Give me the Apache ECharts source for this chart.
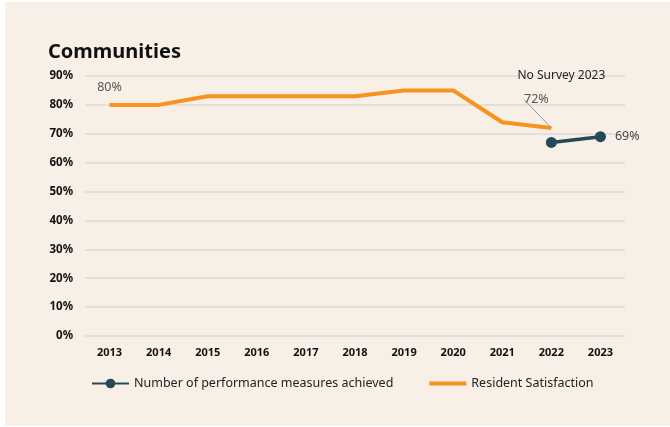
<!DOCTYPE html>
<html>
<head>
<meta charset="utf-8">
<script src="https://cdn.jsdelivr.net/npm/echarts@6/dist/echarts.min.js"></script>
<style>
html,body{margin:0;padding:0;background:#ffffff;width:670px;height:427px;overflow:hidden;}
#panel{position:absolute;left:5px;top:2px;width:665px;height:424px;background:#f8efe6;}
#chart{width:665px;height:424px;}
</style>
</head>
<body>
<div id="panel"><div id="chart"></div></div>
<script>
const years = ['2013','2014','2015','2016','2017','2018','2019','2020','2021','2022','2023'];
const yTicks = ['0%','10%','20%','30%','40%','50%','60%','70%','80%','90%'];
const measuresAchieved = [null,null,null,null,null,null,null,null,null,67,69];
const residentSatisfaction = [80,80,83,83,83,83,85,85,74,72,null];
const satisfactionLabelled = [0,9];
const noSurveyNote = 'No Survey 2023';

const chart = echarts.init(document.getElementById('chart'), null, {renderer:'canvas'});
const font = '"Noto Sans", sans-serif';
chart.setOption({
  animation:false,
  backgroundColor:'transparent',
  title:{
    text:'Communities', left:38, top:35,
    textStyle:{fontFamily:font, fontWeight:'bold', fontSize:20, color:'#111'}
  },
  grid:{left:80, right:45, top:74, bottom:90},
  legend:{
    top:370, left:81, itemWidth:37, itemHeight:12, itemGap:36,
    textStyle:{fontFamily:font, fontSize:12.5, color:'#222'},
    data:[
      {name:'Number of performance measures achieved'},
      {name:'Resident Satisfaction', icon:'path://M0,0L36,0L36,4L0,4Z', itemStyle:{color:'#f7931e'}}
    ]
  },
  xAxis:{
    type:'category', data:years, boundaryGap:true,
    axisLine:{show:false}, axisTick:{show:false},
    axisLabel:{fontFamily:font, fontWeight:'bold', fontSize:11, color:'#111', margin:11}
  },
  yAxis:{
    type:'value', min:0, max:90, interval:10,
    axisLabel:{fontFamily:font, fontWeight:'bold', fontSize:11.5, color:'#111', margin:12,
      formatter:(v)=>yTicks[Math.round(v/10)]},
    splitLine:{lineStyle:{color:'#dedad5', width:1.5}},
    axisLine:{show:false}, axisTick:{show:false}
  },
  series:[
    {
      name:'Number of performance measures achieved', type:'line',
      data:measuresAchieved, connectNulls:false,
      symbol:'circle', symbolSize:11, showSymbol:true,
      itemStyle:{color:'#244a5a'}, lineStyle:{color:'#244a5a', width:3.5},
      label:{show:true, position:'right', distance:9, fontFamily:font, fontSize:12.5, color:'#444',
        formatter:(p)=>p.dataIndex===10 ? p.value+'%' : ''},
      markPoint:{
        symbol:'circle', symbolSize:0,
        data:[{coord:['2022',90], value:0}],
        label:{show:true, formatter:noSurveyNote, position:'inside', offset:[10,0],
          fontFamily:font, fontSize:12, color:'#222'}
      },
      z:3
    },
    {
      name:'Resident Satisfaction', type:'line',
      data:residentSatisfaction.map((v,i)=>({
        value:v,
        label:{show:satisfactionLabelled.includes(i)},
        labelLine:{show:i===9}
      })),
      connectNulls:false,
      symbol:'circle', symbolSize:0, showSymbol:true,
      itemStyle:{color:'#f7931e'}, lineStyle:{color:'#f7931e', width:4},
      label:{position:'top', distance:11, fontFamily:font, fontSize:12.5, color:'#555',
        formatter:(p)=>p.value+'%'},
      labelLine:{lineStyle:{color:'#999', width:1}},
      labelLayout:(p)=>p.dataIndex===9 ? {dx:-15, dy:-11} : {},
      z:2
    }
  ]
});
</script>
</body>
</html>
